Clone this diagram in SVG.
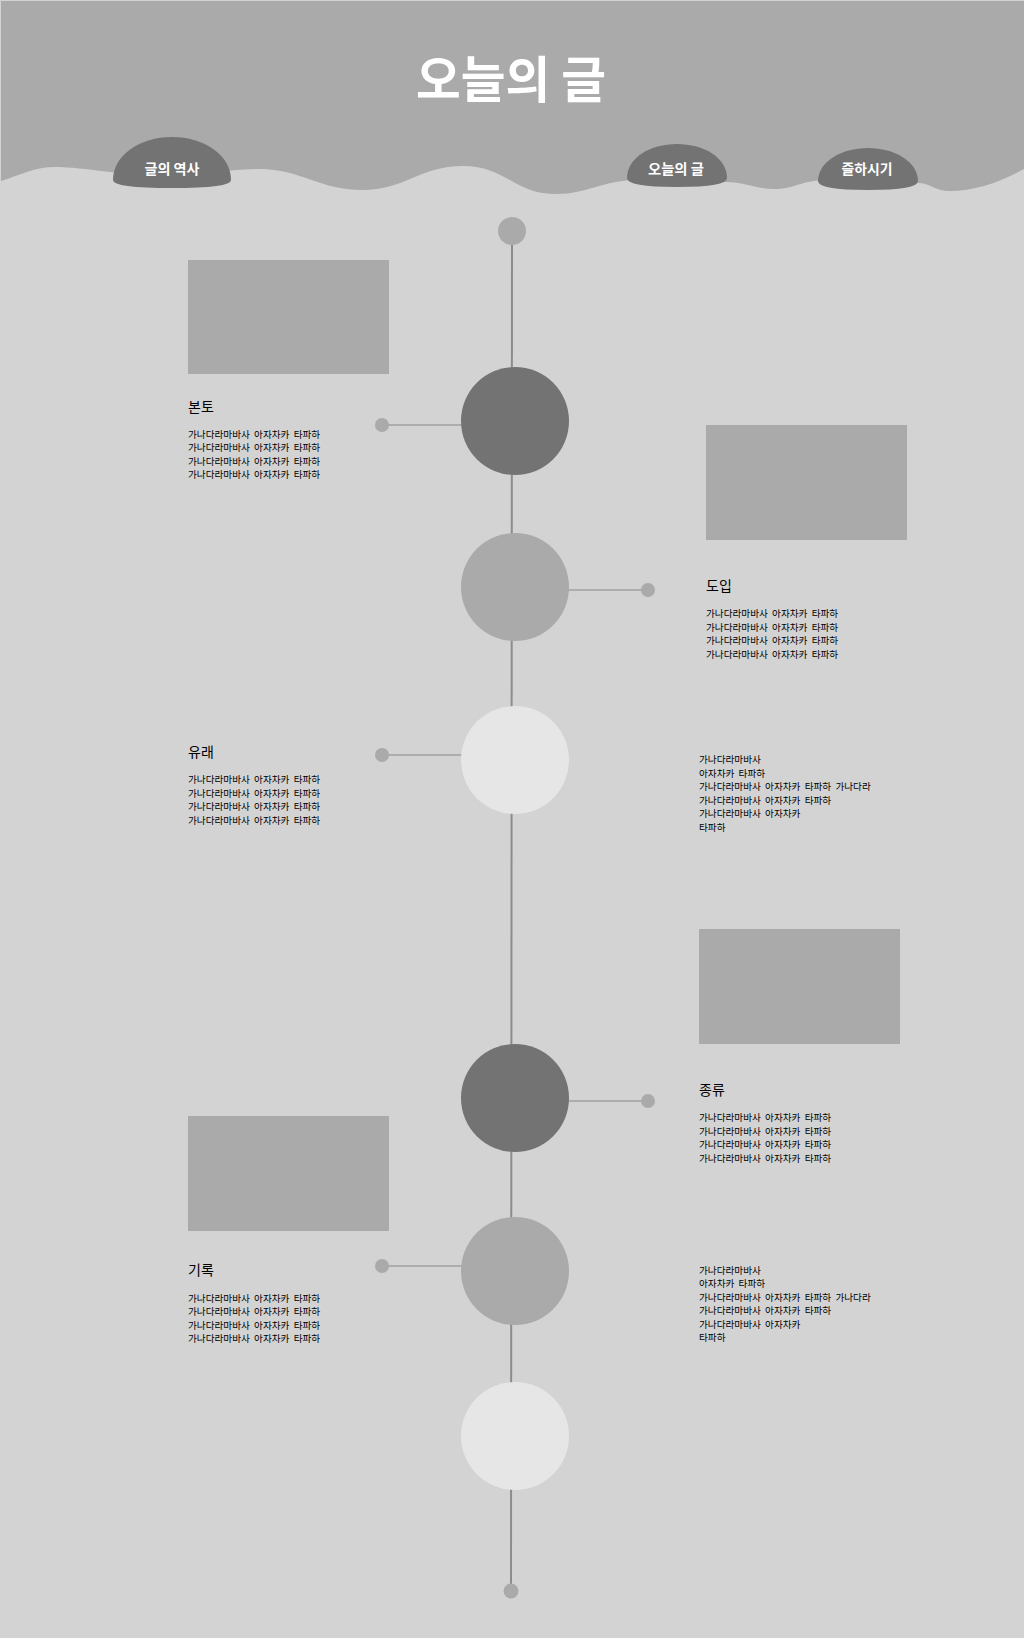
<svg xmlns="http://www.w3.org/2000/svg" width="1024" height="1638" viewBox="0 0 1024 1638">
<style>
.kr{font-family:"Noto Sans CJK KR","Noto Sans",sans-serif}
.ttl{font-size:14px;fill:#000}
.body{font-size:9.6px;fill:#000}
.pill{fill:#737373}
.pt{font-size:14px;font-weight:bold;fill:#fff}
.rect{fill:#aaaaaa}
.conn{stroke:#a0a0a0;stroke-width:1.5}
.dot{fill:#aaaaaa}
</style>
<rect x="0" y="0" width="1024" height="1638" fill="#d3d3d3"/>
<path id="header" d="M1,181 C20,175 35,167 55,167 C85,167 125,176 160,176 C195,176 230,169 260,169 C300,169 320,190 362,190 C405,190 420,166 463,166 C505,166 515,194 555,194 C590,194 600,180 640,180 C680,180 700,182 726,182 C745,182 755,189 775,189 C795,189 800,180 830,180 C860,180 890,183 918,183 C930,183 935,191 949,191 C975,191 1000,182 1024,169 V1 H1 Z" fill="#aaaaaa"/>
<text class="kr" x="511" y="98" font-size="50" font-weight="bold" fill="#fff" text-anchor="middle" textLength="190" lengthAdjust="spacingAndGlyphs">오늘의 글</text>

<g id="pill-history">
<path class="pill" d="M113,180 C113,155 140,137 172,137 C204,137 231,155 231,180 Q231,188 172,188 Q113,188 113,180 Z"/>
<text class="kr pt" x="172" y="174" text-anchor="middle" textLength="55" lengthAdjust="spacingAndGlyphs">글의 역사</text>
</g>
<g id="pill-today">
<path class="pill" d="M627,178 C627,158 650,144 677,144 C704,144 727,158 727,178 Q727,187 677,187 Q627,187 627,178 Z"/>
<text class="kr pt" x="676" y="174" text-anchor="middle" textLength="56" lengthAdjust="spacingAndGlyphs">오늘의 글</text>
</g>
<g id="pill-enjoy">
<path class="pill" d="M818,181 C818,162 841,148 868,148 C895,148 918,162 918,181 Q918,190 868,190 Q818,190 818,181 Z"/>
<text class="kr pt" x="867" y="174" text-anchor="middle" textLength="51" lengthAdjust="spacingAndGlyphs">즐하시기</text>
</g>

<g id="connectors">
<line x1="512" y1="231" x2="511" y2="1591" stroke="#8c8c8c" stroke-width="2"/>
<line class="conn" x1="382" y1="425" x2="462" y2="425"/>
<line class="conn" x1="568" y1="590" x2="648" y2="590"/>
<line class="conn" x1="382" y1="755" x2="462" y2="755"/>
<line class="conn" x1="568" y1="1101" x2="648" y2="1101"/>
<line class="conn" x1="382" y1="1266" x2="462" y2="1266"/>
<circle class="dot" cx="512" cy="231" r="14"/>
<circle class="dot" cx="511" cy="1591" r="7.5"/>
<circle class="dot" cx="382" cy="425" r="7"/>
<circle class="dot" cx="648" cy="590" r="7"/>
<circle class="dot" cx="382" cy="755" r="7"/>
<circle class="dot" cx="648" cy="1101" r="7"/>
<circle class="dot" cx="382" cy="1266" r="7"/>
</g>

<g id="node1"><circle cx="515" cy="421" r="54" fill="#737373"/></g>
<g id="node2"><circle cx="515" cy="587" r="54" fill="#aaaaaa"/></g>
<g id="node3"><circle cx="515" cy="760" r="54" fill="#e6e6e6"/></g>
<g id="node4"><circle cx="515" cy="1098" r="54" fill="#737373"/></g>
<g id="node5"><circle cx="515" cy="1271" r="54" fill="#aaaaaa"/></g>
<g id="node6"><circle cx="515" cy="1436" r="54" fill="#e6e6e6"/></g>

<g id="card-bonto">
<rect class="rect" x="188" y="260" width="201" height="114"/>
<text class="kr ttl" x="188" y="412">본토</text>
<text class="kr body" x="188" xml:space="preserve"><tspan x="188" y="437.5">가나다라마바사  아자차카  타파하</tspan><tspan x="188" y="451">가나다라마바사  아자차카  타파하</tspan><tspan x="188" y="464.5">가나다라마바사  아자차카  타파하</tspan><tspan x="188" y="478">가나다라마바사  아자차카  타파하</tspan></text>
</g>
<g id="card-doip">
<rect class="rect" x="706" y="425" width="201" height="115"/>
<text class="kr ttl" x="706" y="591">도입</text>
<text class="kr body" xml:space="preserve"><tspan x="706" y="617">가나다라마바사  아자차카  타파하</tspan><tspan x="706" y="630.5">가나다라마바사  아자차카  타파하</tspan><tspan x="706" y="644">가나다라마바사  아자차카  타파하</tspan><tspan x="706" y="657.5">가나다라마바사  아자차카  타파하</tspan></text>
</g>
<g id="card-yurae">
<text class="kr ttl" x="188" y="757">유래</text>
<text class="kr body" xml:space="preserve"><tspan x="188" y="783">가나다라마바사  아자차카  타파하</tspan><tspan x="188" y="796.5">가나다라마바사  아자차카  타파하</tspan><tspan x="188" y="810">가나다라마바사  아자차카  타파하</tspan><tspan x="188" y="823.5">가나다라마바사  아자차카  타파하</tspan></text>
</g>
<g id="text-right1">
<text class="kr body" xml:space="preserve"><tspan x="699" y="763">가나다라마바사</tspan><tspan x="699" y="776.5">아자차카  타파하</tspan><tspan x="699" y="790">가나다라마바사  아자차카  타파하  가나다라</tspan><tspan x="699" y="803.5">가나다라마바사  아자차카  타파하</tspan><tspan x="699" y="817">가나다라마바사  아자차카</tspan><tspan x="699" y="830.5">타파하</tspan></text>
</g>
<g id="card-jongryu">
<rect class="rect" x="699" y="929" width="201" height="115"/>
<text class="kr ttl" x="699" y="1094.5">종류</text>
<text class="kr body" xml:space="preserve"><tspan x="699" y="1121">가나다라마바사  아자차카  타파하</tspan><tspan x="699" y="1134.5">가나다라마바사  아자차카  타파하</tspan><tspan x="699" y="1148">가나다라마바사  아자차카  타파하</tspan><tspan x="699" y="1161.5">가나다라마바사  아자차카  타파하</tspan></text>
</g>
<g id="card-girok">
<rect class="rect" x="188" y="1116" width="201" height="115"/>
<text class="kr ttl" x="188" y="1275">기록</text>
<text class="kr body" xml:space="preserve"><tspan x="188" y="1301.5">가나다라마바사  아자차카  타파하</tspan><tspan x="188" y="1315">가나다라마바사  아자차카  타파하</tspan><tspan x="188" y="1328.5">가나다라마바사  아자차카  타파하</tspan><tspan x="188" y="1342">가나다라마바사  아자차카  타파하</tspan></text>
</g>
<g id="text-right2">
<text class="kr body" xml:space="preserve"><tspan x="699" y="1273.5">가나다라마바사</tspan><tspan x="699" y="1287">아자차카  타파하</tspan><tspan x="699" y="1300.5">가나다라마바사  아자차카  타파하  가나다라</tspan><tspan x="699" y="1314">가나다라마바사  아자차카  타파하</tspan><tspan x="699" y="1327.5">가나다라마바사  아자차카</tspan><tspan x="699" y="1341">타파하</tspan></text>
</g>
</svg>
